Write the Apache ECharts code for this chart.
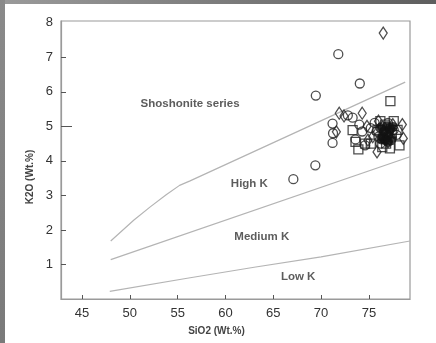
<!DOCTYPE html>
<html>
<head>
<meta charset="utf-8">
<script src="https://cdn.jsdelivr.net/npm/echarts@6/dist/echarts.min.js"></script>
<style>
  html, body { margin: 0; padding: 0; background: #fff; }
  #main { width: 436px; height: 343px; }
</style>
</head>
<body>
<div id="main"></div>
<script>
// K2O vs SiO2 classification boundaries (SiO2, K2O)
var shoshoniteLine = [[48.0, 1.68], [50.4, 2.28], [52.1, 2.66], [53.8, 3.02], [55.2, 3.29], [56.3, 3.42], [78.8, 6.28]];
var highKLine = [[48.0, 1.14], [79.3, 4.12]];
var lowKLine = [[47.9, 0.22], [56.0, 0.6], [63.0, 0.92], [70.0, 1.22], [79.3, 1.68]];

// sample points
var circlePoints = [
    [67.1, 3.47], [69.4, 3.87], [69.45, 5.89], [71.8, 7.09], [74.05, 6.24],
    [71.2, 5.08], [71.25, 4.8], [71.2, 4.52], [72.8, 5.32], [73.3, 5.25],
    [74.0, 5.05], [74.3, 4.85], [73.6, 4.62], [74.6, 4.45], [75.2, 4.95],
    [75.6, 5.1], [76.0, 4.7], [76.4, 5.0], [76.8, 4.8], [77.0, 5.1],
    [77.3, 4.6], [77.6, 4.9], [76.2, 4.5], [75.8, 4.85], [77.9, 4.75],
    [76.6, 4.65], [77.2, 4.95]
];
var diamondPoints = [
    [76.5, 7.7], [71.6, 4.84], [71.9, 5.38], [72.4, 5.3], [74.3, 5.38],
    [74.8, 5.0], [75.85, 4.26], [78.6, 4.65], [78.5, 5.05], [76.0, 5.15],
    [77.0, 4.55], [76.5, 4.85], [75.4, 4.7], [77.5, 5.05], [74.9, 4.6]
];
var squarePoints = [
    [77.25, 5.73], [73.3, 4.89], [73.6, 4.55], [73.9, 4.33], [74.6, 4.5],
    [77.2, 4.36], [76.4, 4.4], [75.2, 4.5], [76.2, 5.15], [77.6, 5.15],
    [78.0, 4.9], [76.8, 4.5], [77.4, 4.8], [75.9, 4.9], [76.7, 5.05],
    [78.2, 4.45]
];
var filledPoints = [
    [76.6, 4.85], [77.0, 4.75], [76.9, 5.0], [76.4, 4.7], [77.2, 4.9], [76.7, 4.6],
    [76.2, 4.95], [77.4, 4.65], [77.5, 4.98], [76.3, 4.62], [77.0, 4.55]
];

// field names
var fieldNames = ['Shoshonite series', 'High K', 'Medium K', 'Low K'];
var fieldAt = [[56.3, 5.64], [62.5, 3.33], [63.8, 1.79], [67.6, 0.65]];

var xTicks = [45, 50, 55, 60, 65, 70, 75];
var yTicks = [1, 2, 3, 4, 5, 6, 7, 8];

var myChart = echarts.init(document.getElementById('main'));

var lineStyle = { color: '#b4b4b4', width: 1.2 };
var pointStyle = { color: 'transparent', borderColor: '#222', borderWidth: 1.3 };

function boundary(data) {
    return {
        type: 'line', data: data, symbol: 'none', silent: true,
        lineStyle: lineStyle, z: 1
    };
}

function points(data, symbol, size) {
    return {
        type: 'scatter', data: data, symbol: symbol, symbolSize: size,
        itemStyle: pointStyle, z: 3
    };
}

var option = {
    backgroundColor: '#fff',
    animation: false,
    graphic: [
        {
            type: 'rect', left: 0, top: 0, shape: { width: 436, height: 4 },
            style: { fill: new echarts.graphic.LinearGradient(0, 0, 1, 0, [
                { offset: 0, color: '#9a9a9a' }, { offset: 1, color: '#5e5e5e' }
            ]) }
        },
        {
            type: 'rect', left: 0, top: 0, shape: { width: 5, height: 343 },
            style: { fill: new echarts.graphic.LinearGradient(0, 0, 0, 1, [
                { offset: 0, color: '#8a8a8a' }, { offset: 1, color: '#7a7a7a' }
            ]) }
        }
    ],
    grid: {
        left: 61, right: 26, top: 21, bottom: 44,
        show: true, borderColor: '#9a9a9a', borderWidth: 1.2
    },
    xAxis: {
        type: 'value', min: 42.8, max: 79.3,
        name: 'SiO2 (Wt.%)', nameLocation: 'middle', nameGap: 27,
        nameTextStyle: { fontFamily: 'Liberation Sans', fontSize: 10, fontWeight: 'bold', color: '#444', padding: [0, 38, 0, 0] },
        splitLine: { show: false },
        axisLine: { lineStyle: { color: '#9a9a9a', width: 1.2 } },
        axisTick: { inside: true, length: 4, customValues: xTicks, lineStyle: { color: '#555' } },
        axisLabel: { customValues: xTicks, margin: 8, fontFamily: 'Liberation Sans', fontSize: 13, color: '#333' }
    },
    yAxis: [
        {
            type: 'value', min: 0, max: 8.05,
            name: 'K2O (Wt.%)', nameLocation: 'middle', nameGap: 21,
            nameTextStyle: { fontFamily: 'Liberation Sans', fontSize: 10, fontWeight: 'bold', color: '#444', padding: [0, 34, 0, 0] },
            splitLine: { show: false },
            axisLine: { lineStyle: { color: '#9a9a9a', width: 1.2 } },
            axisTick: { inside: true, length: 5, customValues: [1, 2, 3, 4, 6, 7], lineStyle: { color: '#555' } },
            axisLabel: { customValues: yTicks, margin: 8, fontFamily: 'Liberation Sans', fontSize: 13, color: '#333' }
        },
        {
            type: 'value', min: 0, max: 8.05, position: 'left',
            splitLine: { show: false },
            axisLine: { show: false },
            axisTick: { inside: true, length: 11, customValues: [5], lineStyle: { color: '#555' } },
            axisLabel: { show: false }
        }
    ],
    series: [
        boundary(shoshoniteLine),
        boundary(highKLine),
        boundary(lowKLine),
        points(circlePoints, 'circle', 9),
        points(diamondPoints, 'diamond', [8, 12]),
        points(squarePoints, 'rect', 9),
        {
            type: 'scatter', data: filledPoints, symbol: 'circle', symbolSize: 10,
            itemStyle: { color: '#111' }, z: 4
        },
        {
            type: 'scatter', symbolSize: 0, silent: true, z: 5,
            data: fieldNames.map(function (n, i) {
                return { name: n, value: fieldAt[i] };
            }),
            label: {
                show: true, position: 'inside', formatter: '{b}',
                fontFamily: 'Liberation Sans', fontSize: 11.5, fontWeight: 'bold', color: '#333'
            }
        }
    ]
};

myChart.setOption(option);
</script>
</body>
</html>
